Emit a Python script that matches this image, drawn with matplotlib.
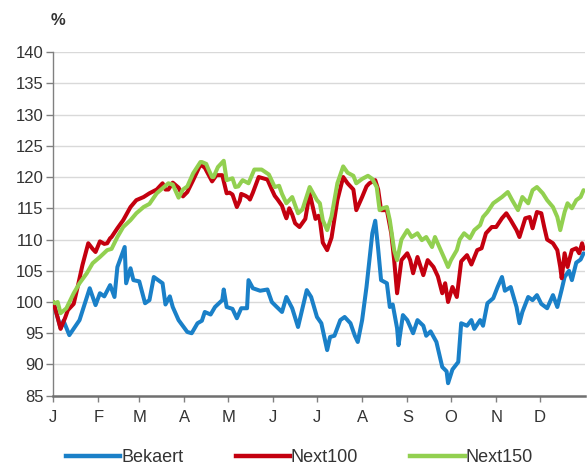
import matplotlib
matplotlib.use("Agg")
import matplotlib.pyplot as plt
from matplotlib.lines import Line2D

plt.rcParams['font.family'] = ['Liberation Sans', 'DejaVu Sans']

# Day-of-year positions and index values (%)
bek_days = [0, 5, 7, 11, 18, 25, 29, 32, 35, 39, 42, 44, 49, 50, 53, 55, 59, 63, 66, 69,
            75, 77, 80, 82, 86, 92, 95, 99, 102, 104, 108, 111, 116, 117, 119, 123, 126, 129,
            133, 134, 137, 142, 147, 150, 153, 157, 160, 164, 168, 174, 177, 181, 184, 188,
            190, 193, 197, 200, 204, 207, 209, 212, 215, 219, 221, 223, 225, 229, 231, 233,
            236, 237, 240, 243, 247, 250, 254, 256, 259, 263, 267, 270, 271, 274, 278, 280,
            284, 287, 289, 293, 295, 298, 302, 305, 308, 310, 314, 318, 320, 322, 326, 329,
            332, 335, 339, 343, 346, 349, 351, 354, 356, 359, 362, 364]
bek_vals = [100, 95.8, 97, 94.7, 97.1, 102.2, 99.5, 101.4, 100.9, 102.7, 100.8, 105.6, 108.8,
            103, 105.4, 103.5, 103.3, 99.8, 100.3, 104, 103, 99.6, 100.9, 99.2, 97.1, 95.2, 95,
            96.6, 97, 98.4, 98, 99.2, 100.3, 102, 99.2, 98.9, 97.4, 99, 99, 103.5, 102.2, 101.8,
            102, 100, 99.3, 98.4, 100.8, 99, 96, 101.9, 100.8, 97.6, 96.6, 92.3, 94.4, 94.6,
            97.1, 97.6, 96.6, 94.6, 93.6, 97.1, 102.4, 111, 113, 108.5, 103.5, 103, 99.2, 99.6,
            95.8, 93.1, 97.9, 97.1, 95, 97.1, 96.2, 94.6, 95.3, 93.6, 89.6, 88.9, 87, 89.2,
            90.4, 96.6, 96.2, 97.1, 95.7, 97.1, 96.2, 99.8, 100.6, 102.4, 104, 101.8, 102.4,
            99.2, 96.6, 98.4, 100.8, 100.3, 101.1, 99.7, 99, 101.1, 99.2, 102, 104, 105, 103.5,
            106.3, 106.8, 107.8]

n100_days = [0, 3, 5, 8, 10, 14, 17, 20, 24, 27, 29, 32, 35, 37, 39, 40, 44, 48, 53, 57, 62,
             66, 71, 75, 77, 79, 82, 86, 89, 92, 96, 101, 104, 109, 112, 116, 119, 121, 123,
             126, 128, 129, 132, 134, 135, 137, 141, 144, 147, 150, 152, 154, 157, 159, 160,
             162, 164, 166, 169, 173, 176, 180, 182, 183, 185, 188, 191, 195, 199, 202, 206,
             208, 212, 215, 217, 221, 223, 225, 229, 232, 234, 236, 239, 243, 245, 247, 250,
             254, 257, 261, 264, 267, 269, 271, 274, 277, 280, 284, 287, 291, 294, 297, 301,
             304, 308, 311, 314, 318, 320, 324, 327, 329, 332, 335, 337, 339, 343, 346, 348,
             349, 351, 353, 356, 359, 361, 363, 364]
n100_vals = [100, 97.5, 95.7, 97.4, 98.7, 99.7, 102.7, 105.9, 109.4, 108.5, 108, 109.7, 109.3,
             109.4, 110.2, 110.4, 111.8, 113.1, 115.2, 116.3, 116.8, 117.4, 118, 119, 118, 118,
             119.1, 118.3, 116.9, 117.6, 119.5, 122, 121.5, 119.3, 120.3, 120.3, 117.4, 117.5,
             117.2, 115.2, 116.2, 117.3, 117, 116.7, 116.4, 117.5, 120, 119.8, 119.6, 118, 117,
             116.4, 115.4, 114, 113.4, 115, 114, 112.6, 112, 113.3, 117.4, 113.3, 113.8, 113.1,
             109.5, 108.3, 110.3, 116.3, 120, 119, 118, 114.7, 116.8, 118.5, 119, 119.5, 118,
             114.7, 114.7, 111, 106.7, 101.4, 106.7, 107.8, 106.7, 104.6, 107.2, 104.3, 106.7,
             105.6, 104.1, 101.4, 103, 100, 102.4, 100.8, 106.5, 107.5, 106, 108.3, 108.6, 111,
             112, 112, 113.4, 114.2, 113.1, 111.5, 110.4, 113.4, 113.6, 111.8, 114.4, 114.2, 112,
             110, 109.4, 108.3, 105.6, 103.8, 107.8, 105.6, 108.3, 108.6, 107.8, 109.4, 108.5]

n150_days = [0, 1, 3, 5, 9, 14, 18, 23, 27, 32, 37, 40, 44, 48, 53, 57, 62, 66, 71, 75, 79,
             82, 86, 89, 92, 96, 101, 102, 105, 106, 109, 110, 113, 117, 119, 123, 125, 127,
             129, 130, 134, 138, 143, 148, 152, 155, 157, 160, 164, 168, 171, 176, 181, 183,
             185, 188, 191, 195, 199, 202, 206, 208, 212, 216, 219, 222, 224, 226, 229, 231,
             234, 236, 239, 243, 246, 250, 253, 256, 260, 262, 265, 269, 271, 273, 277, 279,
             282, 286, 289, 293, 295, 298, 302, 305, 308, 312, 315, 319, 322, 326, 329, 332,
             336, 339, 343, 346, 348, 351, 353, 356, 359, 362, 364]
n150_vals = [100, 99.8, 100, 98.2, 99, 101.4, 103, 104.6, 106.2, 107.2, 108.3, 108.5, 110.4,
             112, 113.1, 114.2, 115.2, 115.7, 117.4, 118.2, 119, 118.8, 116.7, 118, 118.5, 120.6,
             122.4, 122.4, 122.1, 121.5, 120, 120, 121.6, 122.6, 119.5, 119.8, 118.4, 118.5,
             119.2, 119.5, 119, 121.2, 121.2, 120.4, 118.4, 118.6, 117.3, 115.8, 116.8, 114.2,
             114.8, 118.4, 116.3, 115.8, 113.1, 111.5, 113.7, 119, 121.7, 120.7, 120.2, 119,
             119.7, 120.2, 119.7, 118.4, 114.7, 115, 115.2, 113.1, 108.3, 106.7, 110, 111.5,
             110.4, 111, 109.9, 110.4, 108.8, 110.4, 108.8, 106.7, 105.6, 106.7, 108.3, 110, 111,
             110.2, 111.5, 112.3, 113.6, 114.4, 115.8, 116.3, 116.8, 117.6, 116.3, 114.7, 116.8,
             115.8, 117.9, 118.4, 117.4, 116.3, 115.2, 113.6, 111.5, 114.4, 115.8, 115, 116.3,
             116.8, 117.9]

series_names = ["Bekaert", "Next100", "Next150"]
month_starts = [0, 31, 59, 90, 120, 151, 181, 212, 243, 273, 304, 334]
month_labels = ["J", "F", "M", "A", "M", "J", "J", "A", "S", "O", "N", "D"]
y_ticks = [85, 90, 95, 100, 105, 110, 115, 120, 125, 130, 135, 140]

colors = ["#1a80c8", "#c4000f", "#92d050"]
text_color = "#333333"

fig = plt.figure(figsize=(5.87, 4.65), dpi=100)
ax = fig.add_axes([0.0908, 0.149, 0.9058, 0.739])

for days, vals, c, name in zip([bek_days, n100_days, n150_days],
                               [bek_vals, n100_vals, n150_vals], colors, series_names):
    ax.plot(days, vals, color=c, lw=2.9, label=name, solid_joinstyle='round',
            solid_capstyle='round', zorder=3)

ax.set_xlim(0, 365)
ax.set_ylim(85, 140)
ax.set_yticks(y_ticks)
ax.set_xticks(month_starts)
ax.set_xticklabels(month_labels)
for v in y_ticks[1:]:
    ax.axhline(v, color="#d9d9d9", lw=1.0, zorder=1)

for s in ["top", "right"]:
    ax.spines[s].set_visible(False)
ax.spines["left"].set_color("#808080")
ax.spines["left"].set_linewidth(1.0)
ax.spines["bottom"].set_color("#707070")
ax.spines["bottom"].set_linewidth(1.8)
ax.tick_params(axis="y", direction="out", length=5, width=1, color="#808080",
               labelsize=12, labelcolor=text_color, pad=2)
ax.tick_params(axis="x", direction="out", length=4, width=1, color="#808080",
               labelsize=12, labelcolor=text_color, pad=6)

fig.text(0.099, 0.955, "%", fontsize=12, fontweight="bold", color=text_color,
         ha="center", va="center")

handles = [Line2D([0], [0], color=c, lw=3.2) for c in colors]
fig.legend(handles, series_names, loc="center", bbox_to_anchor=(0.51, 0.016),
           ncol=3, frameon=False, fontsize=13, handlelength=3.0, handletextpad=0.05,
           columnspacing=2.9, labelcolor=text_color)

fig.savefig("out.png", dpi=100)
